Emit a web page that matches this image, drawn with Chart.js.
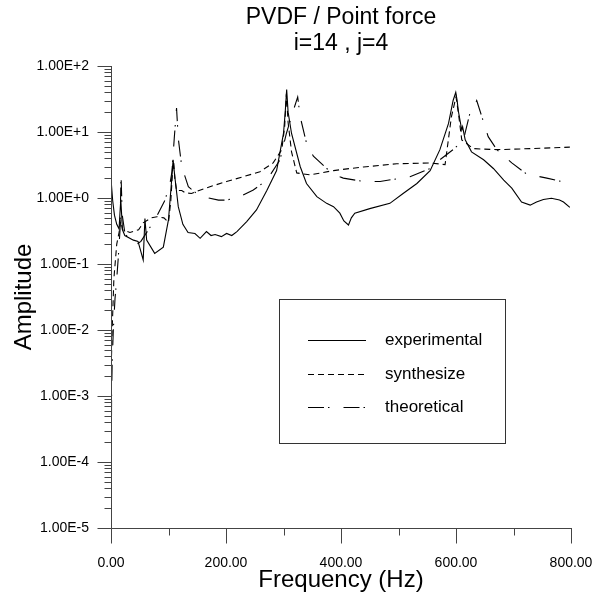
<!DOCTYPE html>
<html>
<head>
<meta charset="utf-8">
<script src="https://cdn.jsdelivr.net/npm/chart.js@4/dist/chart.umd.min.js"></script>
<style>
  html, body { margin: 0; padding: 0; background: #fff; }
  canvas { display: block; }
</style>
</head>
<body>
<canvas id="fft" width="602" height="613"></canvas>
<script>
// frequency (Hz) / amplitude pairs
const freqExp = [0, 0.5, 1, 3, 6, 10, 14, 17, 20, 24, 39, 47, 56, 59, 62, 76, 91, 100, 105, 108, 111, 117, 125, 134, 146, 155, 166, 174, 181, 192, 201, 210, 219, 236, 253, 271, 288, 300, 303, 305.5, 308, 314, 329, 340, 358, 375, 387, 398, 405, 413, 418, 424, 450, 485, 508, 532, 555, 572, 587, 595, 599.6, 602, 604, 610, 611.5, 616, 627, 648, 665, 683, 697, 714, 729, 740, 752, 766, 780, 787, 798];
const ampExp = [0.001, 0.006, 1.6, 0.9, 0.55, 0.4, 0.34, 0.95, 0.33, 0.27, 0.23, 0.22, 0.115, 0.49, 0.23, 0.145, 0.18, 0.47, 1.66, 3.8, 2.1, 0.74, 0.4, 0.3, 0.29, 0.245, 0.31, 0.27, 0.28, 0.26, 0.29, 0.27, 0.31, 0.44, 0.66, 1.3, 2.6, 9.5, 20, 44, 20, 9.5, 3.0, 1.66, 1.05, 0.83, 0.74, 0.59, 0.45, 0.39, 0.5, 0.59, 0.69, 0.83, 1.17, 1.66, 2.6, 5.4, 13.5, 30, 40, 30, 21, 10.7, 12, 7.6, 5.0, 3.8, 2.8, 1.86, 1.41, 0.87, 0.78, 0.87, 0.95, 0.99, 0.93, 0.87, 0.72];

const freqSyn = [0, 2, 5, 10, 14, 17, 20, 33, 48, 56, 70, 80, 92, 100, 104, 107, 109, 111, 114, 117, 123, 129, 140, 149, 172, 201, 230, 259, 282, 297, 302, 305, 308, 314, 323, 346, 387, 416, 439, 497, 555, 581, 592, 600, 604, 610, 630, 671, 729, 798];
const ampSyn = [0.002, 0.01, 0.06, 0.2, 0.3, 0.45, 0.33, 0.3, 0.33, 0.42, 0.5, 0.52, 0.5, 0.43, 0.9, 2.5, 3.5, 2.0, 1.3, 1.3, 1.3, 1.2, 1.17, 1.26, 1.48, 1.78, 2.1, 2.5, 3.4, 5.4, 12, 38, 14, 5.0, 2.4, 2.24, 2.6, 2.8, 2.95, 3.3, 3.4, 3.2, 17, 34, 20, 7.6, 5.6, 5.4, 5.6, 5.9];

const freqTheo = [0, 1, 2, 4, 7, 10, 12.8, 15.7, 17.4, 19, 20, 24, 33, 45, 52, 65, 76.5, 94, 102.6, 106, 110, 114, 117, 123, 134.5, 149, 170, 187, 201, 224, 247.5, 271, 294, 305, 317, 324.7, 329, 340, 352, 375, 398, 404, 439, 468, 520, 555, 572, 595, 613, 624, 636, 645, 656, 671, 697, 723, 758, 798];
const ampTheo = [0.000012, 0.001, 0.003, 0.01, 0.03, 0.06, 0.13, 0.33, 2.3, 0.8, 0.52, 0.3, 0.22, 0.2, 0.22, 0.33, 0.47, 0.93, 1.66, 2.5, 8, 23, 8, 3.0, 1.48, 1.17, 1.0, 0.93, 0.93, 1.05, 1.32, 1.86, 3.8, 9.5, 21, 34, 17, 6.8, 4.3, 2.8, 2.1, 2.0, 1.78, 1.78, 2.1, 2.8, 3.8, 5.4, 7.6, 19, 30, 17, 8.5, 5.4, 3.4, 2.3, 2.0, 1.66];

const xTicks = [0, 200, 400, 600, 800];
const yTicks = [1e-5, 1e-4, 1e-3, 1e-2, 1e-1, 1e0, 1e1, 1e2];

const FONT = 'Arial, "Liberation Sans", sans-serif';

function pairs(xs, ys) {
  return xs.map((f, i) => ({ x: f, y: ys[i] }));
}

// axis lines with outward major / minor ticks
const axesPlugin = {
  id: 'axes',
  afterDraw(chart) {
    const { ctx, chartArea: a, scales: { x, y } } = chart;
    const L = Math.round(a.left) + 0.5, B = Math.round(a.bottom) + 0.5;
    ctx.save();
    ctx.strokeStyle = '#444';
    ctx.lineWidth = 1;
    ctx.beginPath();
    ctx.moveTo(L, Math.round(a.top));
    ctx.lineTo(L, B);
    ctx.lineTo(Math.round(a.right) + 1, B);
    for (let v = 0; v <= 800; v += 100) {
      const px = Math.round(x.getPixelForValue(v)) + 0.5;
      ctx.moveTo(px, B);
      ctx.lineTo(px, B + (v % 200 === 0 ? 15 : 7));
    }
    for (let e = -5; e <= 2; e++) {
      for (let m = 1; m < 10; m++) {
        if (e === 2 && m > 1) break;
        const py = Math.round(y.getPixelForValue(m * Math.pow(10, e))) + 0.5;
        ctx.moveTo(L - (m === 1 ? 14 : 7), py);
        ctx.lineTo(L, py);
      }
    }
    ctx.stroke();
    ctx.restore();
  }
};

// boxed legend inside the plot
const boxLegend = {
  id: 'boxLegend',
  afterDraw(chart) {
    const ctx = chart.ctx;
    const bx = 279.5, by = 299.5, bw = 226, bh = 144;
    ctx.save();
    ctx.strokeStyle = '#333';
    ctx.lineWidth = 1;
    ctx.strokeRect(bx, by, bw, bh);
    ctx.font = '17px ' + FONT;
    ctx.fillStyle = '#000';
    ctx.textBaseline = 'middle';
    chart.data.datasets.forEach((ds, i) => {
      const ry = Math.round(340 + i * 33.5) + 0.5;
      ctx.beginPath();
      ctx.setLineDash(ds.borderDash || []);
      ctx.strokeStyle = '#000';
      ctx.moveTo(308, ry);
      ctx.lineTo(366, ry);
      ctx.stroke();
      ctx.setLineDash([]);
      ctx.fillText(ds.label, 385, ry);
    });
    ctx.restore();
  }
};

const ctx = document.getElementById('fft').getContext('2d');
new Chart(ctx, {
  type: 'scatter',
  data: {
    datasets: [
      { label: 'experimental', data: pairs(freqExp, ampExp), borderDash: [] },
      { label: 'synthesize', data: pairs(freqSyn, ampSyn), borderDash: [6, 4] },
      { label: 'theoretical', data: pairs(freqTheo, ampTheo), borderDash: [16, 4, 1.5, 14] }
    ].map(d => Object.assign(d, {
      showLine: true, borderColor: '#000', borderWidth: 1.1,
      pointRadius: 0, tension: 0, fill: false
    }))
  },
  options: {
    responsive: false,
    animation: false,
    devicePixelRatio: 1,
    layout: { padding: { left: 0, right: 31, top: 0, bottom: 0 } },
    plugins: {
      legend: { display: false },
      tooltip: { enabled: false },
      title: {
        display: true,
        fullSize: false,
        text: ['PVDF / Point force', 'i=14 , j=4'],
        color: '#000',
        font: { family: FONT, size: 23, weight: 'normal', lineHeight: 1.1 },
        padding: { top: 5.5, bottom: 9.9 }
      }
    },
    scales: {
      x: {
        type: 'linear',
        min: 0, max: 800,
        afterFit: s => { s.height = 85; },
        afterBuildTicks: s => { s.ticks = xTicks.map(v => ({ value: v })); },
        // invisible tick marks only push the labels down; real marks come from axesPlugin
        grid: { drawOnChartArea: false, drawTicks: true, tickLength: 24, color: 'rgba(0,0,0,0)' },
        border: { display: false },
        ticks: {
          color: '#000', padding: 3, maxRotation: 0,
          font: { family: FONT, size: 14 },
          callback: v => v.toFixed(2)
        },
        title: {
          display: true, text: 'Frequency (Hz)', color: '#000',
          font: { family: FONT, size: 24, lineHeight: 1.2 }, padding: { top: 0, bottom: 18.6 }
        }
      },
      y: {
        type: 'logarithmic',
        min: 1e-5, max: 1e2,
        afterFit: s => { s.width = 111; },
        afterBuildTicks: s => { s.ticks = yTicks.map(v => ({ value: v })); },
        grid: { display: false, drawTicks: false },
        border: { display: false },
        ticks: {
          color: '#000', padding: 22,
          font: { family: FONT, size: 14 },
          callback: v => v.toExponential(2).toUpperCase()
        },
        title: {
          display: true, text: 'Amplitude', color: '#000',
          font: { family: FONT, size: 24, lineHeight: 1.2 }, padding: { top: 10, bottom: 0 }
        }
      }
    }
  },
  plugins: [axesPlugin, boxLegend]
});
</script>
</body>
</html>
